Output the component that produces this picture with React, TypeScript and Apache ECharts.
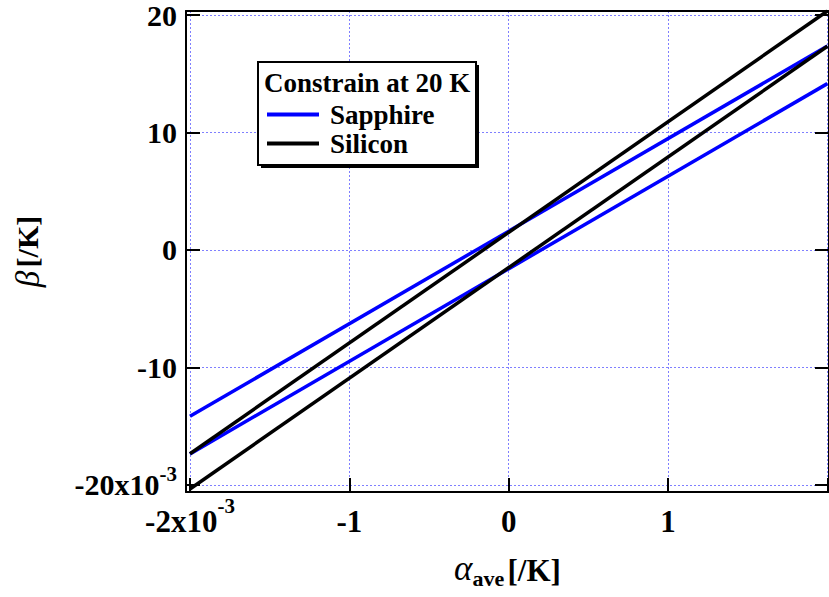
import { useEffect, useRef } from "react";
import * as echarts from "echarts";

// α_ave in units of 1e-3 /K, β in units of 1e-3 /K
const alphaEnds = [-2, 2];
const sapphireUpper = [-14.16, 17.36];
const sapphireLower = [-17.36, 14.16];
const siliconUpper = [-17.34, 20.34];
const siliconLower = [-20.34, 17.34];
const xTicks = [-2, -1, 0, 1, 2];
const xLabelTicks = [-2, -1, 0, 1];
const yTicks = [-20, -10, 0, 10, 20];
const legendNames = ["Sapphire", "Silicon"];
const legendTitle = "Constrain at 20 K";

const FONT = "'Liberation Serif', 'Times New Roman', serif";

const pairs = (ys: number[]) => alphaEnds.map((x, i) => [x, ys[i]]);

export default function App() {
  const ref = useRef<HTMLDivElement>(null);
  useEffect(() => {
    document.body.style.margin = "0";
    const chart = echarts.init(ref.current!, null, { renderer: "svg" });
    const lineSeries = (name: string, color: string, ys: number[]) => ({
      name,
      type: "line",
      data: pairs(ys),
      symbol: "none",
      color,
      lineStyle: { color, width: 3.5 },
      silent: true,
      z: 2,
    });
    chart.setOption({
      animation: false,
      grid: { left: 186, top: 11, right: -11, bottom: 105, containLabel: false },
      legend: {
        data: legendNames,
        orient: "vertical",
        left: 262,
        top: 95,
        itemWidth: 52,
        itemHeight: 4,
        itemGap: 0,
        icon: "rect",
        z: 20,
        textStyle: {
          fontFamily: FONT,
          fontWeight: "bold",
          fontSize: 27,
          color: "#000",
          lineHeight: 29,
          padding: [0, 0, 0, 6],
        },
        selectedMode: false,
      },
      graphic: [
        {
          type: "rect",
          shape: { x: 261, y: 65, width: 218, height: 103 },
          style: { fill: "#000" },
          z: 5,
        },
        {
          type: "rect",
          shape: { x: 258, y: 62, width: 218, height: 103 },
          style: { fill: "#fff", stroke: "#000", lineWidth: 2 },
          z: 6,
        },
        {
          type: "text",
          x: 264,
          y: 83,
          style: {
            text: legendTitle,
            fontFamily: FONT,
            fontWeight: "bold",
            fontSize: 27,
            fill: "#000",
            verticalAlign: "middle",
            align: "left",
          },
          z: 7,
        },
      ],
      xAxis: [
        {
          type: "value",
          min: -2.025,
          max: 2.01,
          position: "bottom",
          axisLine: { show: true, onZero: false, lineStyle: { color: "#000", width: 2 } },
          axisTick: {
            show: true,
            inside: true,
            length: 14,
            customValues: xTicks,
            lineStyle: { color: "#000", width: 2 },
          },
          splitLine: {
            show: true,
            lineStyle: { color: "#7f7fff", width: 1, type: [2, 2] },
          },
          axisLabel: {
            customValues: xLabelTicks,
            margin: 4,
            formatter: (v: number) =>
              v === -2 ? "{m|-2x10}{sup|-3}" : "{m|" + v + "}",
            rich: {
              m: {
                fontFamily: FONT,
                fontWeight: "bold",
                fontSize: 31,
                color: "#000",
                lineHeight: 50,
                verticalAlign: "middle",
              },
              sup: {
                fontFamily: FONT,
                fontWeight: "bold",
                fontSize: 21,
                color: "#000",
                lineHeight: 20,
                padding: [0, 0, 30, 0],
                verticalAlign: "bottom",
              },
            },
          },
          name: "{g|α}{s|ave} {b|[/K]}",
          nameLocation: "middle",
          nameGap: 58,
          nameTextStyle: {
            rich: {
              g: {
                fontFamily: FONT,
                fontStyle: "italic",
                fontSize: 35,
                color: "#000",
                lineHeight: 34,
                padding: [0, 0, 4, 0],
                verticalAlign: "bottom",
              },
              s: {
                fontFamily: FONT,
                fontWeight: "bold",
                fontSize: 22,
                color: "#000",
                lineHeight: 22,
                verticalAlign: "bottom",
              },
              b: {
                fontFamily: FONT,
                fontWeight: "bold",
                fontSize: 31,
                color: "#000",
                lineHeight: 34,
                padding: [0, 0, 4, 0],
                verticalAlign: "bottom",
              },
            },
          },
        },
        {
          type: "value",
          min: -2.025,
          max: 2.01,
          position: "top",
          axisLine: { show: true, onZero: false, lineStyle: { color: "#000", width: 2 } },
          axisTick: { show: false },
          axisLabel: { show: false },
          splitLine: { show: false },
        },
      ],
      yAxis: [
        {
          type: "value",
          min: -20.6,
          max: 20.34,
          position: "left",
          axisLine: { show: true, onZero: false, lineStyle: { color: "#000", width: 2 } },
          axisTick: {
            show: true,
            inside: true,
            length: 14,
            customValues: yTicks,
            lineStyle: { color: "#000", width: 2 },
          },
          splitLine: {
            show: true,
            lineStyle: { color: "#7f7fff", width: 1, type: [2, 2] },
          },
          axisLabel: {
            customValues: yTicks,
            margin: 9,
            formatter: (v: number) =>
              v === -20 ? "{m|-20x10}{sup|-3}" : "{m|" + v + "}",
            rich: {
              m: {
                fontFamily: FONT,
                fontWeight: "bold",
                fontSize: 30,
                color: "#000",
                lineHeight: 30,
                verticalAlign: "middle",
              },
              sup: {
                fontFamily: FONT,
                fontWeight: "bold",
                fontSize: 21,
                color: "#000",
                lineHeight: 20,
                padding: [0, 0, 15, 0],
                verticalAlign: "bottom",
              },
            },
          },
          name: "{g|β} {b|[/K]}",
          nameLocation: "middle",
          nameGap: 142,
          nameRotate: 90,
          nameTextStyle: {
            rich: {
              g: {
                fontFamily: FONT,
                fontStyle: "italic",
                fontSize: 33,
                color: "#000",
              },
              b: {
                fontFamily: FONT,
                fontWeight: "bold",
                fontSize: 30,
                color: "#000",
              },
            },
          },
        },
        {
          type: "value",
          min: -20.6,
          max: 20.34,
          position: "right",
          axisLine: { show: true, onZero: false, lineStyle: { color: "#000", width: 2 } },
          axisTick: {
            show: true,
            inside: true,
            length: 14,
            customValues: yTicks,
            lineStyle: { color: "#000", width: 2 },
          },
          axisLabel: { show: false },
          splitLine: { show: false },
        },
      ],
      series: [
        lineSeries("Sapphire", "#0000ff", sapphireUpper),
        lineSeries("Sapphire", "#0000ff", sapphireLower),
        lineSeries("Silicon", "#000000", siliconUpper),
        lineSeries("Silicon", "#000000", siliconLower),
      ],
    });
    return () => chart.dispose();
  }, []);
  return <div ref={ref} style={{ width: 829, height: 597 }} />;
}
